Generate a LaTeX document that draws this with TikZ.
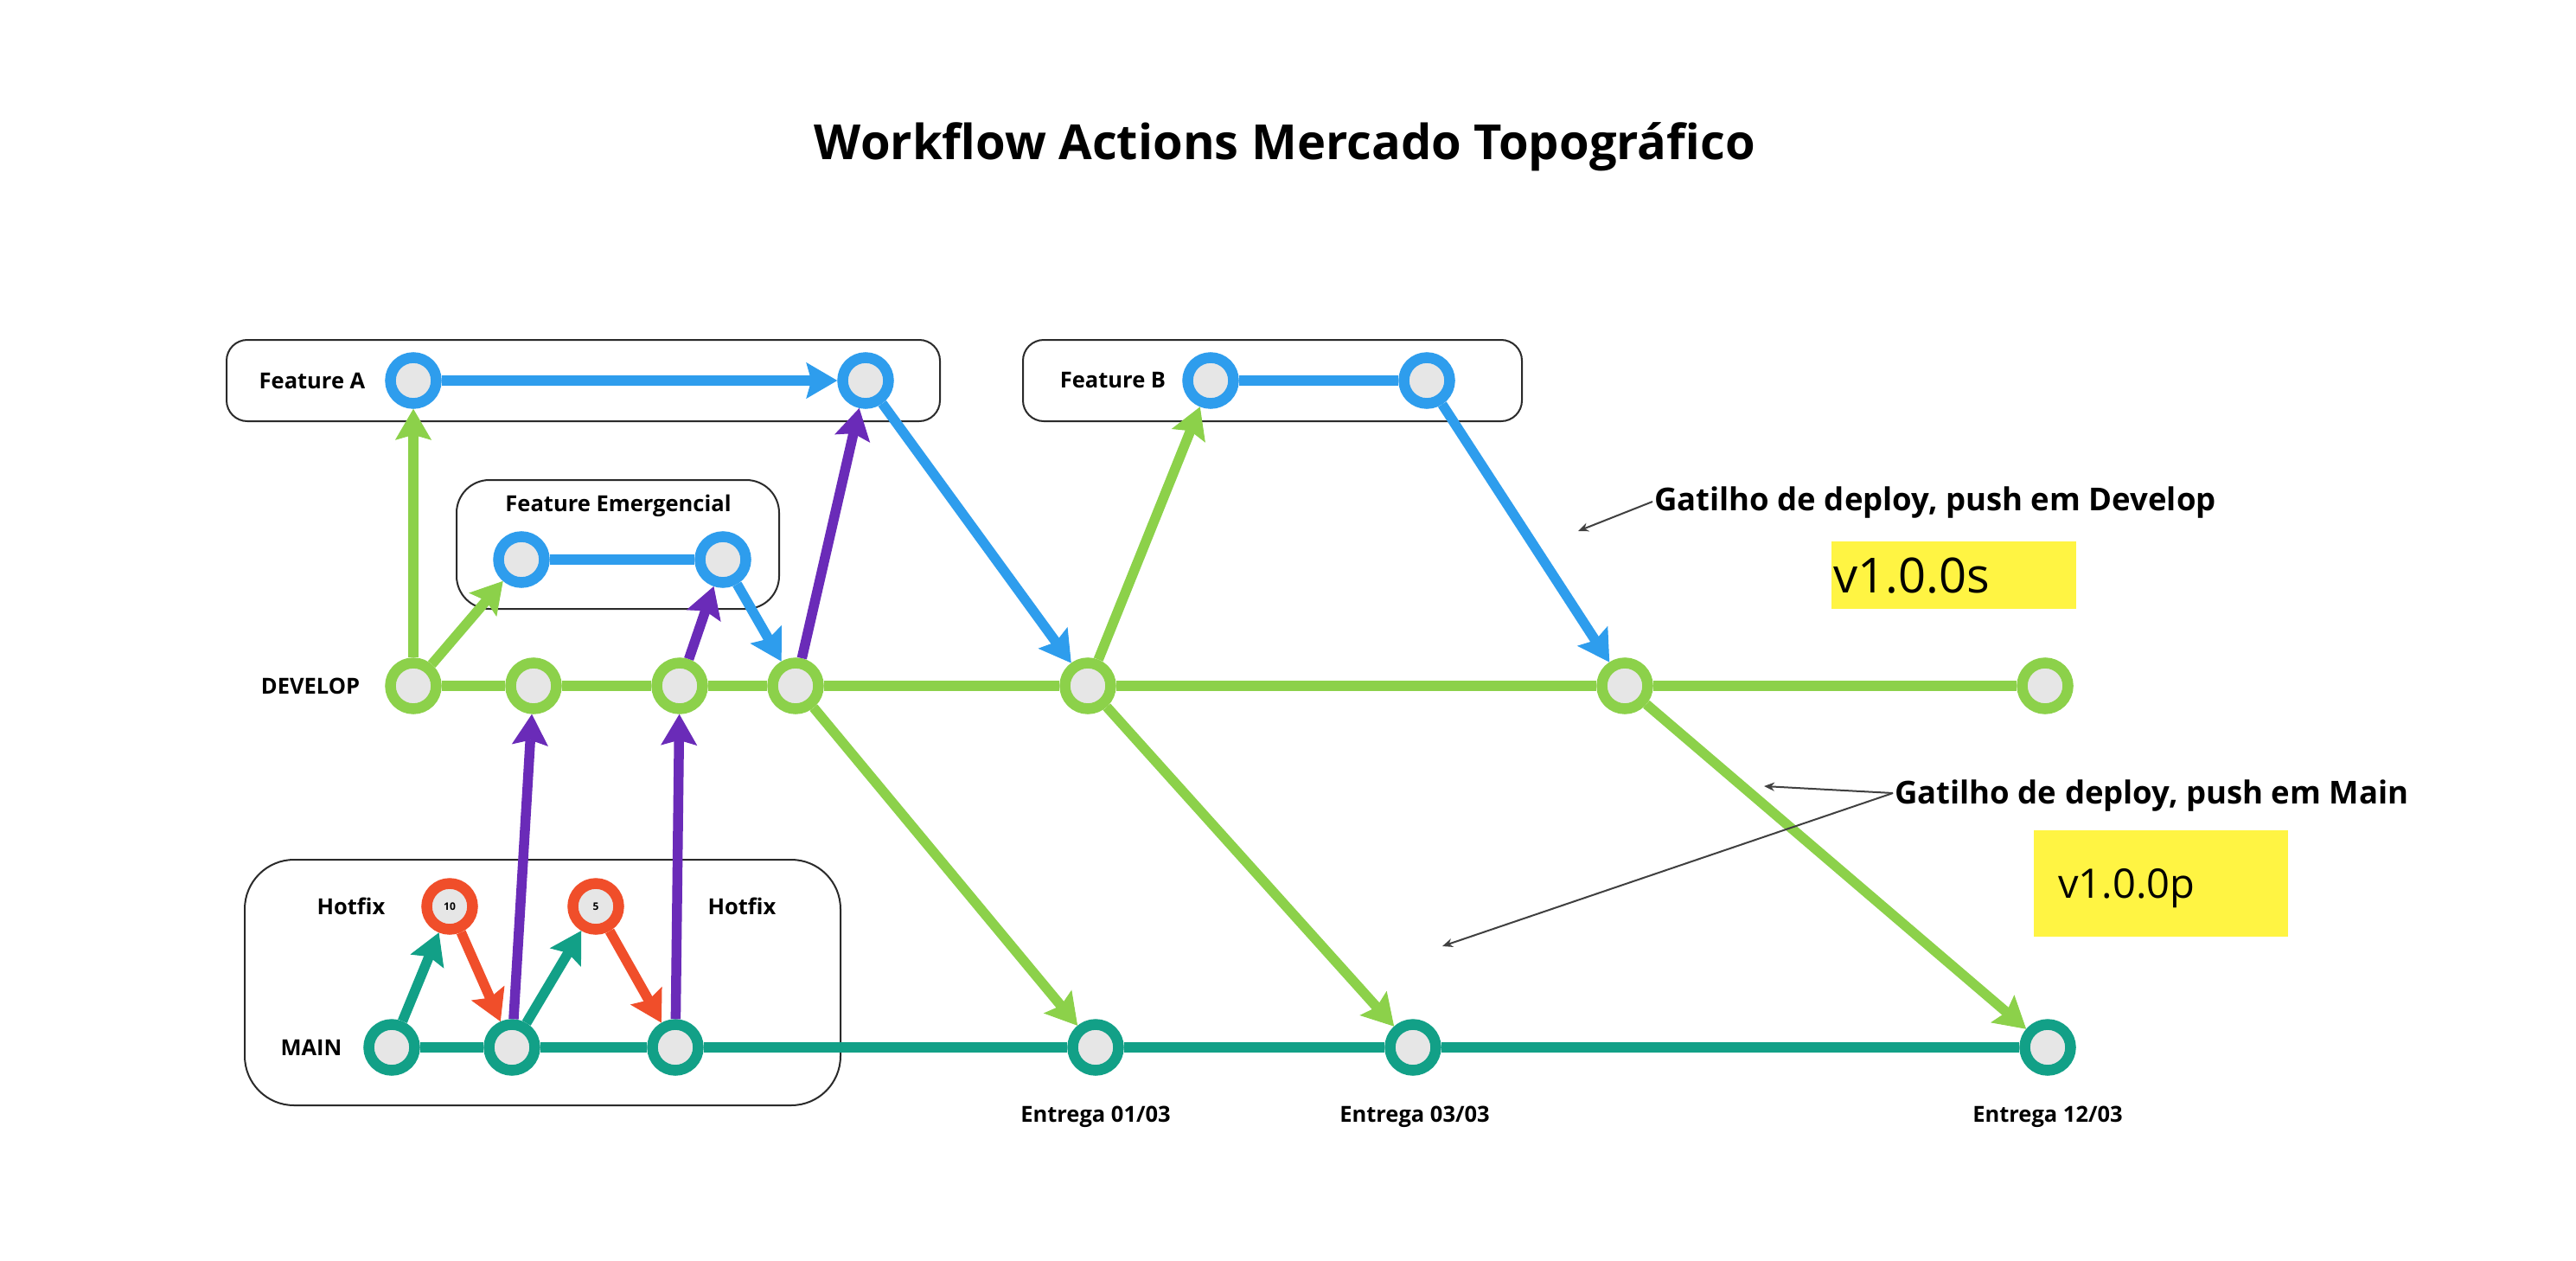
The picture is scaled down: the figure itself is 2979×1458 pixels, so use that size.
\documentclass[tikz,border=0pt]{standalone}
\usepackage{fontspec}
\setmainfont{Open Sans}
\usetikzlibrary{arrows.meta}
\definecolor{cdev}{HTML}{8CD14A}
\definecolor{cmain}{HTML}{12A087}
\definecolor{cblue}{HTML}{2E9DED}
\definecolor{cpurp}{HTML}{6A2BB8}
\definecolor{cred}{HTML}{F04E2A}
\definecolor{cfill}{HTML}{E6E6E6}
\definecolor{cyel}{HTML}{FFF443}
\definecolor{cbox}{HTML}{2A2A2A}
\tikzset{
  commit/.style={circle, minimum size=53pt, inner sep=0pt, line width=12.5pt, fill=cfill},
  devc/.style={commit, draw=cdev},
  mainc/.style={commit, draw=cmain},
  featc/.style={commit, draw=cblue},
  hotc/.style={commit, draw=cred, font=\fontsize{12}{14}\selectfont\bfseries},
  lbl/.style={font=\fontsize{25.5}{30}\selectfont\bfseries, inner sep=0pt},
  note/.style={font=\fontsize{36.5}{44}\selectfont\bfseries, inner sep=0pt},
  ver/.style={font=\fontsize{56}{66}\selectfont, inner sep=0pt},
  frame/.style={draw=cbox, line width=2pt},
  ln/.style={line width=11.5pt},
  arr/.style={line width=11.5pt, -{Stealth[length=36pt,width=42pt,inset=6pt,line width=1pt]}},
  thin/.style={draw=black!75, line width=2pt, -{Stealth[length=12pt,width=10pt]}}
}
\begin{document}
\begin{tikzpicture}[x=1pt,y=-1pt]
\fill[white] (0,0) rectangle (2979,1458);
\useasboundingbox (0,0) rectangle (2979,1458);

% title
\node[font=\fontsize{56}{66}\selectfont\bfseries, inner sep=0pt, anchor=base] (title) at (1486,185) {Workflow Actions Mercado Topográfico};

% frames
\draw[frame, rounded corners=24pt] (262,393) rectangle (1087,487);
\draw[frame, rounded corners=38pt] (528,555) rectangle (901,704);
\draw[frame, rounded corners=24pt] (1183,393) rectangle (1760,487);
\draw[frame, rounded corners=57pt] (283,994) rectangle (972,1278);

% labels
\node[lbl] (lfa) at (361,440) {Feature A};
\node[lbl] (lfe) at (715,585) {Feature Emergencial};
\node[lbl] (lfb) at (1287,440) {Feature B};
\node[lbl] (ldev) at (359,793) {DEVELOP};
\node[lbl] (lmain) at (360,1211) {MAIN};
\node[lbl] (lh1) at (406,1048) {Hotfix};
\node[lbl] (lh2) at (858,1048) {Hotfix};
\node[lbl, anchor=base] (le1) at (1267,1297) {Entrega 01/03};
\node[lbl, anchor=base] (le2) at (1636,1297) {Entrega 03/03};
\node[lbl, anchor=base] (le3) at (2368,1297) {Entrega 12/03};

% commits
\node[featc] (fa1) at (478,440) {};
\node[featc] (fa2) at (1001,440) {};
\node[featc] (fe1) at (603,647) {};
\node[featc] (fe2) at (836,647) {};
\node[featc] (fb1) at (1400,440) {};
\node[featc] (fb2) at (1650,440) {};

\node[devc] (d1) at (478,793) {};
\node[devc] (d2) at (617,793) {};
\node[devc] (d3) at (786,793) {};
\node[devc] (d4) at (920,793) {};
\node[devc] (d5) at (1258,793) {};
\node[devc] (d6) at (1879,793) {};
\node[devc] (d7) at (2365,793) {};

\node[mainc] (m1) at (453,1211) {};
\node[mainc] (m2) at (592,1211) {};
\node[mainc] (m3) at (781,1211) {};
\node[mainc] (m4) at (1267,1211) {};
\node[mainc] (m5) at (1634,1211) {};
\node[mainc] (m6) at (2368,1211) {};

\node[hotc] (h1) at (520,1048) {10};
\node[hotc] (h2) at (689,1048) {5};

% branch lines
\draw[ln, cdev] (d1) -- (d2) -- (d3) -- (d4) -- (d5) -- (d6) -- (d7);
\draw[ln, cmain] (m1) -- (m2) -- (m3) -- (m4) -- (m5) -- (m6);
\draw[arr, cblue] (fa1) -- (fa2);
\draw[ln, cblue] (fe1) -- (fe2);
\draw[ln, cblue] (fb1) -- (fb2);

% merges / branches
\draw[arr, cdev] (d1) -- (fa1);
\draw[arr, cdev] (d1) -- (fe1);
\draw[arr, cdev] (d5) -- (fb1);
\draw[arr, cblue] (fe2) -- (d4);
\draw[arr, cblue] (fa2) -- (d5);
\draw[arr, cblue] (fb2) -- (d6);
\draw[arr, cpurp] (d3) -- (fe2);
\draw[arr, cpurp] (d4) -- (fa2);
\draw[arr, cpurp] (m2) -- (d2);
\draw[arr, cpurp] (m3) -- (d3);
\draw[arr, cdev] (d4) -- (m4);
\draw[arr, cdev] (d5) -- (m5);
\draw[arr, cdev] (d6) -- (m6);
\draw[arr, cmain] (m1) -- (h1);
\draw[arr, cmain] (m2) -- (h2);
\draw[arr, cred] (h1) -- (m2);
\draw[arr, cred] (h2) -- (m3);

% annotations
\node[note, anchor=base west] (ndev) at (1913,590) {Gatilho de deploy, push em Develop};
\node[note, anchor=base west] (nmain) at (2191,929) {Gatilho de deploy, push em Main};
\coordinate (tdev) at (1825,614);
\coordinate (tmain1) at (2040,909);
\coordinate (tmain2) at (1668,1094);
\coordinate (sdev) at (1911,580);
\coordinate (smain) at (2189,917);
\draw[thin] (sdev) -- (tdev);
\draw[thin] (smain) -- (tmain1);
\draw[thin] (smain) -- (tmain2);

% version boxes
\fill[cyel] (2118,626) rectangle (2401,704);
\node[ver, anchor=base west] (vs) at (2120,685) {v1.0.0s};
\fill[cyel] (2352,960) rectangle (2646,1083);
\node[ver, anchor=base west, font=\fontsize{47}{56}\selectfont] (vp) at (2380,1038) {v1.0.0p};
\end{tikzpicture}
\end{document}
